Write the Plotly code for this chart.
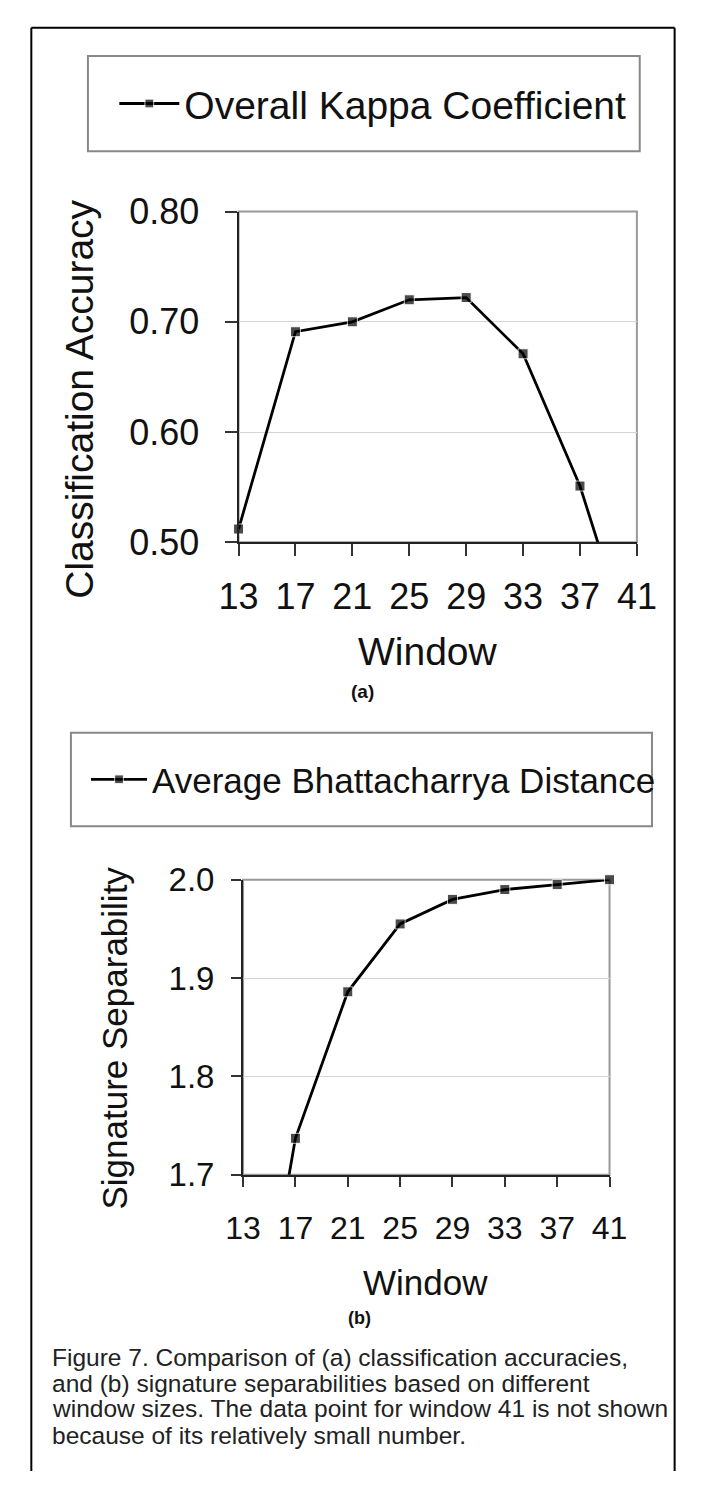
import plotly.graph_objects as go

# ---------------- data ----------------
window_a = [13, 17, 21, 25, 29, 33, 37, 41]
kappa = [0.512, 0.691, 0.700, 0.720, 0.722, 0.671, 0.551, 0.388]
marker_size_a = [10, 10, 10, 10, 10, 10, 10, 0]

window_b = [13, 17, 21, 25, 29, 33, 37, 41]
bhatta = [1.43, 1.737, 1.886, 1.955, 1.980, 1.990, 1.995, 2.0]
marker_size_b = [0, 10, 10, 10, 10, 10, 10, 10]

x_ticks = [13, 17, 21, 25, 29, 33, 37, 41]
y_ticks_a = [0.5, 0.6, 0.7, 0.8]
y_ticks_b = [1.7, 1.8, 1.9, 2.0]

caption_lines = [
    "Figure 7. Comparison of (a) classification accuracies,",
    "and (b) signature separabilities based on different",
    "window sizes. The data point for window 41 is not shown",
    "because of its relatively small number.",
]

W, H = 705, 1492
FONT = "Liberation Sans, Arial, sans-serif"


def fx(x):
    return x / W


def fy(y):
    return 1 - y / H


fig = go.Figure()

fig.add_trace(go.Scatter(
    x=window_a, y=kappa, mode="lines+markers", name="Overall Kappa Coefficient",
    line=dict(color="black", width=2.8),
    marker=dict(symbol="square", size=marker_size_a, color="black"),
    cliponaxis=False, xaxis="x", yaxis="y", legend="legend",
))
fig.add_trace(go.Scatter(
    x=window_b, y=bhatta, mode="lines+markers", name="Average Bhattacharrya Distance",
    line=dict(color="black", width=2.8),
    marker=dict(symbol="square", size=marker_size_b, color="black"),
    cliponaxis=False, xaxis="x2", yaxis="y2", legend="legend2",
))

axis_common = dict(
    showline=True, linecolor="#222", linewidth=2, mirror=False,
    ticks="outside", tickcolor="#333", tickwidth=1.5,
    zeroline=False, fixedrange=True,
)

fig.update_layout(
    width=W, height=H,
    margin=dict(l=0, r=0, t=0, b=0),
    paper_bgcolor="white", plot_bgcolor="white",
    font=dict(family=FONT, color="#111"),
    xaxis=dict(domain=[fx(231.7), fx(654)], range=[13, 41], anchor="y",
               tickvals=x_ticks, ticklen=12, showgrid=False,
               tickfont=dict(size=36), ticklabelstandoff=10, **axis_common),
    yaxis=dict(domain=[fy(537), fy(197)], range=[0.5, 0.8], anchor="x",
               tickvals=y_ticks_a, tickformat=".2f", ticklen=12,
               showgrid=True, gridcolor="#d4d4d4", gridwidth=1.2,
               tickfont=dict(size=36), ticklabelstandoff=18, **axis_common),
    xaxis2=dict(domain=[fx(236.5), fx(625)], range=[13, 41], anchor="y2",
                tickvals=x_ticks, ticklen=10, showgrid=False,
                tickfont=dict(size=32), ticklabelstandoff=14, **axis_common),
    yaxis2=dict(domain=[fy(1187.3), fy(884)], range=[1.7, 2.0], anchor="x2",
                tickvals=y_ticks_b, tickformat=".1f", ticklen=10,
                showgrid=True, gridcolor="#d4d4d4", gridwidth=1.2,
                tickfont=dict(size=33), ticklabelstandoff=10, **axis_common),
    legend=dict(x=fx(100), y=fy(86), xanchor="left", yanchor="middle",
                bgcolor="rgba(0,0,0,0)", borderwidth=0, itemwidth=60,
                font=dict(size=39, family=FONT, color="#111")),
    legend2=dict(x=fx(70), y=fy(781), xanchor="left", yanchor="middle",
                 bgcolor="rgba(0,0,0,0)", borderwidth=0, itemwidth=56,
                 font=dict(size=35, family=FONT, color="#111")),
    showlegend=True,
)

frame = dict(xref="paper", yref="paper", line=dict(color="black", width=2))
shapes = [
    # outer frame (left, top, right; bottom edge is beyond the picture)
    dict(type="line", x0=fx(12), x1=fx(12), y0=0, y1=fy(8), **frame),
    dict(type="line", x0=fx(12), x1=fx(694), y0=fy(8), y1=fy(8), **frame),
    dict(type="line", x0=fx(694), x1=fx(694), y0=0, y1=fy(8), **frame),
    # legend boxes
    dict(type="rect", xref="paper", yref="paper", x0=fx(72), x1=fx(657), y0=fy(135), y1=fy(37),
         line=dict(color="#888", width=2)),
    dict(type="rect", xref="paper", yref="paper", x0=fx(54), x1=fx(670), y0=fy(829), y1=fy(733),
         line=dict(color="#888", width=2)),
    # plot-area borders (gray top/right)
    dict(type="rect", xref="x domain", yref="y domain", x0=0, x1=1, y0=0, y1=1,
         line=dict(color="#999", width=2), layer="below"),
    dict(type="rect", xref="x2 domain", yref="y2 domain", x0=0, x1=1, y0=0, y1=1,
         line=dict(color="#999", width=2), layer="below"),
]
fig.update_layout(shapes=shapes)

annotations = [
    dict(text="Classification Accuracy", x=fx(63), y=fy(390), textangle=-90,
         font=dict(size=39), showarrow=False, xref="paper", yref="paper",
         xanchor="center", yanchor="middle"),
    dict(text="Window", x=fx(433), y=fy(649), font=dict(size=39), showarrow=False,
         xref="paper", yref="paper", xanchor="center", yanchor="middle"),
    dict(text="<b>(a)</b>", x=fx(363), y=fy(690), font=dict(size=19), showarrow=False,
         xref="paper", yref="paper", xanchor="center", yanchor="middle"),
    dict(text="Signature Separability", x=fx(100), y=fy(1047), textangle=-90,
         font=dict(size=35), showarrow=False, xref="paper", yref="paper",
         xanchor="center", yanchor="middle"),
    dict(text="Window", x=fx(430), y=fy(1298), font=dict(size=35), showarrow=False,
         xref="paper", yref="paper", xanchor="center", yanchor="middle"),
    dict(text="<b>(b)</b>", x=fx(360), y=fy(1335), font=dict(size=18), showarrow=False,
         xref="paper", yref="paper", xanchor="center", yanchor="middle"),
]
cap_y = [1375, 1402, 1428, 1455]
for line, yy in zip(caption_lines, cap_y):
    annotations.append(dict(
        text=line, x=fx(32), y=fy(yy), xref="paper", yref="paper", showarrow=False,
        xanchor="left", yanchor="middle",
        font=dict(size=24.5, family=FONT, color="#222"),
    ))
fig.update_layout(annotations=annotations)

fig.write_html(
    "out.html",
    config={"displayModeBar": False},
    post_script="document.body.style.margin='0';document.body.style.overflow='hidden';",
)
